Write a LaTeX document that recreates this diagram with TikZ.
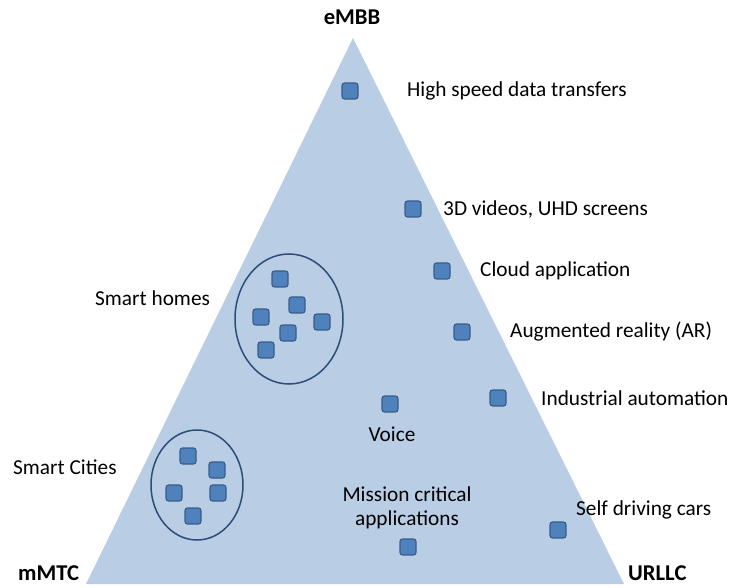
\documentclass[tikz,border=0pt]{standalone}
\usepackage{fontspec}
\setmainfont{Carlito}
\usepackage{tikz}
\usetikzlibrary{calc}
\definecolor{trifill}{RGB}{185,205,229}
\definecolor{boxfill}{RGB}{79,129,189}
\definecolor{boxline}{RGB}{56,93,138}
\definecolor{ringline}{RGB}{44,77,120}
\tikzset{
  usecase/.style={rectangle, rounded corners=2.5pt, fill=boxfill, draw=boxline,
    line width=1.1pt, minimum size=16pt, inner sep=0pt},
  corner/.style={font=\fontsize{22.6}{26}\selectfont\bfseries, inner sep=0pt},
  txt/.style={font=\fontsize{21.3}{24}\selectfont, inner sep=0pt},
  lab/.style={txt, anchor=west},
  ring/.style={draw=ringline, line width=1.5pt}
}

\begin{document}
\begin{tikzpicture}[x=1pt,y=-1pt]
    \useasboundingbox (0,0) rectangle (742,588);
    % the triangle
    \coordinate (top) at (353,38);
    \coordinate (bl) at (86,584);
    \coordinate (br) at (624,584);
    \fill[trifill] (top) -- (br) -- (bl) -- cycle;
    \node[corner] (embb) at (352,17) {eMBB};
    \node[corner, anchor=west] (mmtc) at (18,573) {mMTC};
    \node[corner, anchor=west] (urllc) at (628,573) {URLLC};
    % single use cases with their labels
    \foreach \pt/\lx/\name/\txt in {
      (350,91)/407/hs/High speed data transfers,
      (413,209)/443/vid/{3D videos, UHD screens},
      (442,271)/480/cloud/Cloud application,
      (462,332)/510/ar/Augmented reality (AR),
      (498,398)/541/ind/Industrial automation}{
    \node[usecase] (\name) at \pt {};
    \node[lab] (\name-lab) at ($(\lx,0)+(0,0|-\name)$) {\txt};
    }
    \node[usecase] (car) at (558,530) {};
    \node[lab] (car-lab) at (576,510) {Self driving cars};
    \node[usecase] (voice) at (390,404) {};
    \node[txt] (voice-lab) at (392,434) {Voice};
    \node[usecase] (mission) at (408,547) {};
    \node[txt, align=center] (mission-lab) at (407,508)
      {Mission critical\\applications};
    % smart homes
    \draw[ring] (289,319) ellipse[x radius=54, y radius=65];
    \foreach \pt [count=\i] in {(280,279),(297,305),(261,317),(322,322),(288,333),(266,350)}{
    \node[usecase] (home\i) at \pt {};
    }
    \node[lab] (homes-lab) at (95,298) {Smart homes};
    % smart cities
    \draw[ring] (197,485) ellipse[x radius=46, y radius=55];
    \foreach \pt [count=\i] in {(188,456),(217,470),(174,493),(218,493),(193,516)}{
    \node[usecase] (city\i) at \pt {};
    }
    \node[lab] (cities-lab) at (13,467) {Smart Cities};
\end{tikzpicture}
\end{document}
